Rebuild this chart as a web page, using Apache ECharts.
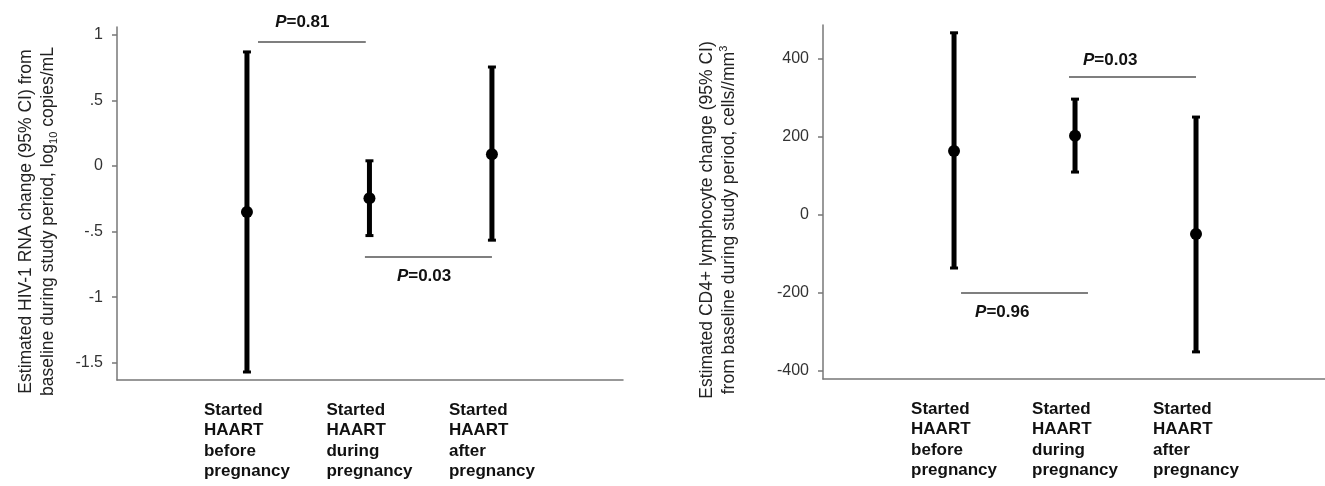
<!DOCTYPE html>
<html>
<head>
<meta charset="utf-8">
<script src="https://cdn.jsdelivr.net/npm/echarts@6/dist/echarts.min.js"></script>
<style>
    html, body { margin: 0; padding: 0; background: #fff; }
    #chart { width: 1325px; height: 486px; }
</style>
</head>
<body>
<div id="chart"></div>
<script>
    // groups on the x axis (placed at 1, 2, 3)
    var groups = ['Started\nHAART\nbefore\npregnancy', 'Started\nHAART\nduring\npregnancy', 'Started\nHAART\nafter\npregnancy'];
    var groupPos = [1, 2, 3];

    // left panel: HIV-1 RNA change, log10 copies/mL
    var rnaMean = [-0.35, -0.245, 0.09];
    var rnaLow = [-1.57, -0.53, -0.565];
    var rnaHigh = [0.87, 0.04, 0.755];
    var rnaTicks = [-1.5, -1, -0.5, 0, 0.5, 1];

    // right panel: CD4+ change, cells/mm3
    var cd4Mean = [164, 203, -49];
    var cd4Low = [-136, 110, -351];
    var cd4High = [467, 297, 251];
    var cd4Ticks = [-400, -200, 0, 200, 400];

    // P-value brackets: from group, to group, height, label anchor (x, y)
    var rnaP = ['0.81', '0.03'];
    var rnaPFrom = [1.09, 1.963];
    var rnaPTo = [1.97, 3.0];
    var rnaPY = [0.945, -0.694];
    var rnaPTextX = [1.23, 2.224];
    var rnaPTextY = [1.098, -0.838];

    var cd4P = ['0.03', '0.96'];
    var cd4PFrom = [1.95, 1.058];
    var cd4PTo = [3.0, 2.107];
    var cd4PY = [354, -200];
    var cd4PTextX = [2.066, 1.174];
    var cd4PTextY = [397, -249];

    var font = 'Liberation Sans, Arial, sans-serif';

    function barData(mean, low, high) {
        var out = [];
        for (var i = 0; i < groupPos.length; i++) {
            out.push([groupPos[i], mean[i], low[i], high[i]]);
        }
        return out;
    }

    function pData(from, to, y, tx, ty) {
        var out = [];
        for (var i = 0; i < from.length; i++) {
            out.push([from[i], to[i], y[i], tx[i], ty[i]]);
        }
        return out;
    }

    function renderBar(params, api) {
        var x = api.value(0);
        var mid = api.coord([x, api.value(1)]);
        var bot = api.coord([x, api.value(2)]);
        var top = api.coord([x, api.value(3)]);
        return {
            type: 'group',
            children: [
                {type: 'line', shape: {x1: top[0], y1: top[1], x2: bot[0], y2: bot[1]}, style: {stroke: '#000', lineWidth: 5}},
                {type: 'rect', shape: {x: top[0] - 4, y: top[1] - 1.5, width: 8, height: 3}, style: {fill: '#000'}},
                {type: 'rect', shape: {x: bot[0] - 4, y: bot[1] - 1.5, width: 8, height: 3}, style: {fill: '#000'}},
                {type: 'circle', shape: {cx: mid[0], cy: mid[1], r: 6}, style: {fill: '#000'}}
            ]
        };
    }

    function renderP(labels) {
        return function (params, api) {
            var a = api.coord([api.value(0), api.value(2)]);
            var b = api.coord([api.value(1), api.value(2)]);
            var t = api.coord([api.value(3), api.value(4)]);
            return {
                type: 'group',
                children: [
                    {type: 'line', shape: {x1: a[0], y1: a[1], x2: b[0], y2: b[1]}, style: {stroke: '#555', lineWidth: 1.5}},
                    {
                        type: 'text', x: t[0], y: t[1],
                        style: {
                            text: '{i|P}{b|=' + labels[params.dataIndex] + '}',
                            align: 'left', verticalAlign: 'middle',
                            rich: {
                                i: {fontFamily: font, fontSize: 17, fontWeight: 'bold', fontStyle: 'italic', fill: '#111'},
                                b: {fontFamily: font, fontSize: 17, fontWeight: 'bold', fill: '#111'}
                            }
                        }
                    }
                ]
            };
        };
    }

    function xAxisFor(idx, min, max) {
        return {
            type: 'value', gridIndex: idx, min: min, max: max,
            axisLine: {show: true, onZero: false, lineStyle: {color: '#777', width: 1.5}},
            axisTick: {show: false},
            splitLine: {show: false},
            axisLabel: {
                customValues: groupPos,
                margin: 20,
                align: 'center',
                formatter: function (v) {
                    var lines = groups[Math.round(v) - 1].split('\n');
                    return lines.map(function (s) { return '{a|' + s + '}'; }).join('\n');
                },
                rich: {
                    a: {fontFamily: font, fontSize: 17, fontWeight: 'bold', color: '#111', lineHeight: 20.5, align: 'left'}
                }
            }
        };
    }

    function yAxisFor(idx, min, max, ticks, fmt, name, gap, rich) {
        return {
            type: 'value', gridIndex: idx, min: min, max: max,
            name: name, nameLocation: 'middle', nameRotate: 90, nameGap: gap,
            nameTextStyle: {fontFamily: font, fontSize: 17.5, color: '#222', lineHeight: 22, padding: [0, 36, 0, 0], rich: rich},
            axisLine: {show: true, onZero: false, lineStyle: {color: '#777', width: 1.5}},
            axisTick: {show: true, customValues: ticks, length: 5, lineStyle: {color: '#777', width: 1.5}},
            splitLine: {show: false},
            axisLabel: {customValues: ticks, formatter: fmt, margin: 14, fontFamily: font, fontSize: 16, color: '#333'}
        };
    }

    var chart = echarts.init(document.getElementById('chart'));

    var option = {
        backgroundColor: '#fff',
        animation: false,
        grid: [
            {left: 117, top: 27, width: 506, height: 353, outerBoundsMode: 'none'},
            {left: 823, top: 25, width: 502, height: 354, outerBoundsMode: 'none'}
        ],
        xAxis: [
            xAxisFor(0, -0.061, 4.07),
            xAxisFor(1, -0.083, 4.066)
        ],
        yAxis: [
            yAxisFor(0, -1.631, 1.06, rnaTicks, function (v) {
                    return String(v).replace('0.', '.');
                },
                'Estimated HIV-1 RNA change (95% CI) from\nbaseline during study period, log{sub|10} copies/mL', 58,
                {sub: {fontFamily: font, fontSize: 11, color: '#222', verticalAlign: 'bottom', lineHeight: 22}}),
            yAxisFor(1, -420.5, 487, cd4Ticks, function (v) { return String(v); },
                'Estimated CD4+ lymphocyte change (95% CI)\nfrom baseline during study period, cells//mm{sup|3}', 83,
                {sup: {fontFamily: font, fontSize: 11, color: '#222', verticalAlign: 'top', lineHeight: 22}})
        ],
        series: [
            {type: 'custom', xAxisIndex: 0, yAxisIndex: 0, renderItem: renderBar, data: barData(rnaMean, rnaLow, rnaHigh)},
            {type: 'custom', xAxisIndex: 0, yAxisIndex: 0, renderItem: renderP(rnaP), data: pData(rnaPFrom, rnaPTo, rnaPY, rnaPTextX, rnaPTextY)},
            {type: 'custom', xAxisIndex: 1, yAxisIndex: 1, renderItem: renderBar, data: barData(cd4Mean, cd4Low, cd4High)},
            {type: 'custom', xAxisIndex: 1, yAxisIndex: 1, renderItem: renderP(cd4P), data: pData(cd4PFrom, cd4PTo, cd4PY, cd4PTextX, cd4PTextY)}
        ]
    };

    chart.setOption(option);
    window.addEventListener('resize', function () {
        chart.resize();
    });
</script>
</body>
</html>
